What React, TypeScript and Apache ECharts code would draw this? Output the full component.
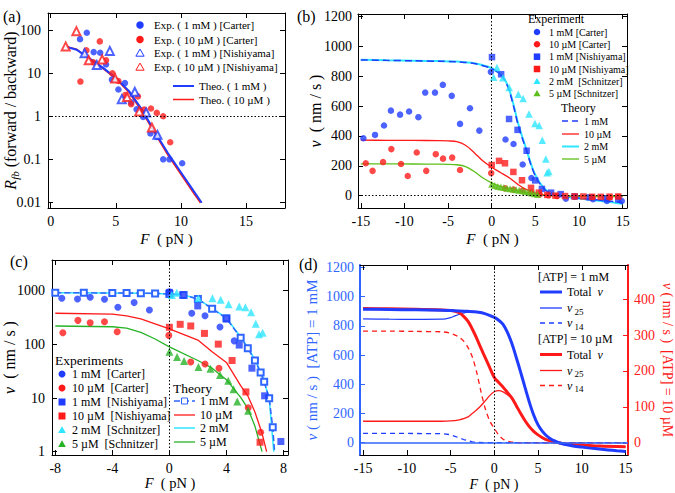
import React, { useEffect, useRef } from 'react';
import * as echarts from 'echarts';

const FONT = '"Liberation Serif", "Times New Roman", serif';
const BLUE = '#1f3cff';
const RED = '#ff1a1a';
const CYAN = '#2ee6ff';
const GREEN_B = '#5cbf1a';
const GREEN_C = '#27b327';
const LBLUE = '#2f66ff';

// ---------- panel (a): R_fb vs F ----------
const aTicksX = [0, 5, 10, 15];
const aTicksY = [0.01, 0.1, 1, 10, 100];
const aCarter1mM = [[2.25, 62], [2.77, 87], [3.3, 31], [3.8, 30], [4.25, 16], [4.7, 7.1], [5.2, 4.2], [5.7, 5.9], [6.18, 2.1], [6.6, 1.45], [7.1, 0.96], [7.66, 0.4], [8.15, 0.33], [8.64, 0.1], [9.12, 0.1], [10.1, 0.081]];
const aCarter10uM = [[2.28, 6.4], [2.74, 34], [3.28, 18], [3.77, 55], [4.25, 20], [4.74, 10], [5.2, 6.6], [5.72, 3.1], [6.18, 1.9], [6.7, 2.9], [7.18, 1.44], [7.7, 1.52], [8.15, 1.2], [8.64, 1.0], [9.18, 0.25]];
const aNishi1mM = [[2.6, 29], [3.54, 15.5], [4.54, 33], [5.46, 2.5], [6.46, 3.7], [7.33, 1.23], [8.2, 0.37]];
const aNishi10uM = [[1.15, 42], [1.97, 95], [2.92, 20], [3.95, 21], [4.95, 7.6], [5.87, 2.8], [6.8, 1.3], [7.77, 0.55]];
const aTheo1mM = [[1.3, 40], [2, 35], [3, 22], [4, 13.5], [5, 7.8], [6, 3.9], [7, 1.45], [8, 0.43], [9, 0.14], [10, 0.05], [11, 0.018], [11.6, 0.0098]];
const aTheo10uM = [[1.15, 42], [2, 36], [3, 21], [4, 13], [5, 7.5], [6, 3.6], [7, 1.3], [8, 0.4], [9, 0.125], [10, 0.045], [11, 0.016], [11.5, 0.0098]];

// ---------- panel (b): v vs F (linear) ----------
const bTicksX = [-15, -10, -5, 0, 5, 10, 15];
const bTicksY = [0, 200, 400, 600, 800, 1000, 1200];
const bCarter1mM = [[-14.7, 385], [-13.37, 407], [-12.34, 470], [-11.55, 570], [-10.5, 543], [-9.47, 564], [-8.4, 526], [-7.62, 691], [-6.5, 691], [-5.6, 743], [-4.58, 669], [-3.63, 481], [-2.49, 586], [-1.42, 436], [-0.1, 830], [1.58, 376], [2.5, 346], [3.55, 209], [4.55, 118], [8.5, -20], [11.6, -24], [13.2, -36], [14.9, -36]];
const bCarter10uM = [[-14.43, 217], [-13.65, 166], [-12.45, 225], [-11.5, 312], [-10.39, 212], [-9.62, 132], [-8.59, 289], [-7.5, 166], [-6.41, 278], [-5.58, 248], [-4.53, 255], [-3.63, 172], [-0.06, 151], [1.52, 49], [2.5, 40], [3.5, 33], [4.5, 20], [5.5, 8], [6.5, 2], [7.5, -3], [9.5, -8], [11.5, -10], [13.5, -12], [14.5, -8]];
const bNishi1mM = [[0.03, 929], [1.08, 814], [1.99, 514], [2.96, 441], [4.0, 301], [4.98, 102], [5.75, 45], [6.8, 20], [7.9, 10], [9.5, -5], [11.2, -12], [13, -18], [14.5, -25]];
const bNishi10uM = [[0, 205], [0.84, 233], [1.52, 217], [2.48, 159], [3.47, 103], [4.5, 52], [5.4, 20], [6.37, 5], [7.3, 0], [8.4, -3], [9.5, -5], [10.5, -6], [11.5, -8], [12.5, -8], [13.5, -7], [14.5, -6]];
const bSchn2mM = [[0.22, 793], [0.6, 860], [1.28, 791], [2.0, 725], [3.05, 679], [3.6, 651], [4.27, 547], [4.95, 483], [5.44, 471], [5.8, 372], [6.2, 245], [6.35, 153], [6.55, 162]];
const bSchn5uM = [[0, 76], [0.35, 68], [0.7, 62], [1.05, 57], [1.4, 54], [1.75, 50], [2.1, 46], [2.45, 43], [2.8, 40], [3.15, 36], [3.5, 32], [3.85, 28], [4.2, 24], [4.55, 18], [4.9, 13], [5.25, 8]];
const bTheo1mM = [[-15, 910], [-12, 907], [-9, 904], [-6, 901], [-4, 898], [-3, 893], [-2, 886], [-1, 871], [0, 852], [1, 812], [1.5, 772], [2, 705], [2.5, 600], [3, 478], [3.5, 385], [4, 300], [4.5, 205], [5, 130], [5.5, 80], [6, 45], [6.5, 22], [7, 10], [8, -2], [9, -10], [10, -16], [11, -22], [12, -28], [13, -34], [14, -40], [15, -48]];
const bTheo2mM = [[-15, 912], [-12, 908], [-9, 905], [-6, 902], [-4, 899], [-3, 894], [-2, 888], [-1, 874], [0, 855], [1, 816], [1.5, 778], [2, 712], [2.5, 610], [3, 490], [3.5, 395], [4, 306], [4.5, 212], [5, 138], [5.5, 88], [6, 50], [6.5, 25], [7, 11], [8, -3], [9, -12], [10, -19], [11, -26], [12, -33], [13, -40], [14, -47], [15, -55]];
const bTheo10uM = [[-15, 372], [-12, 371], [-9, 370], [-6, 369], [-5, 367], [-4, 362], [-3, 338], [-2, 288], [-1, 232], [0, 190], [1, 155], [2, 120], [3, 75], [4, 40], [5, 16], [6, 5], [7, 0], [8, -3], [10, -5], [12, -6], [15, -7]];
const bTheo5uM = [[-15, 213], [-12, 213], [-9, 212], [-6, 211], [-5, 210], [-4, 207], [-3, 195], [-2, 162], [-1, 118], [0, 86], [1, 62], [2, 48], [3, 34], [4, 20], [5, 9], [6, 3], [7, 0], [8, -2], [10, -4], [12, -5], [15, -6]];

// ---------- panel (c): v vs F (log) ----------
const cTicksX = [-8, -4, 0, 4, 8];
const cTicksY = [1, 10, 100, 1000];
const cCarter1mM = [[-7.54, 721], [-6.44, 700], [-5.55, 753], [-4.55, 692], [-3.61, 490], [-2.47, 600], [-1.4, 437], [0, 955], [1.57, 380], [2.5, 341], [3.55, 210], [4.55, 116]];
const cCarter10uM = [[-7.47, 165], [-6.41, 280], [-5.55, 253], [-4.55, 263], [-3.66, 172], [-0.04, 147], [1.5, 47], [2.5, 43], [3.48, 36], [5.53, 6.6], [6.4, 2.3]];
const cNishi1mM = [[0, 930], [0.94, 830], [1.99, 520], [4.02, 297], [4.9, 97], [5.79, 36], [6.68, 11], [7.82, 1.55]];
const cNishi10uM = [[0, 208], [0.76, 236], [1.5, 220], [2.46, 160], [3.43, 101], [4.4, 50], [5.37, 13], [6.36, 1.5]];
const cSchn2mM = [[0.17, 830], [0.52, 920], [2.03, 720], [3.02, 720], [3.6, 680], [4.15, 560], [4.9, 510], [5.33, 490], [5.73, 395], [6.06, 242], [6.29, 155], [6.54, 165]];
const cSchn5uM = [[0, 73], [0.54, 58], [1.03, 49], [2.04, 38], [2.88, 35], [3.55, 27], [4.13, 21], [4.5, 14.5], [4.76, 8.6], [5.53, 5.8]];
const cTheo1mM = [[-8, 915], [-6, 912], [-4, 908], [-3, 905], [-2, 900], [-1, 890], [0, 870], [1, 830], [2, 700], [3, 460], [4, 305], [5, 133], [5.5, 85], [6, 50], [6.4, 30], [6.65, 20], [7, 9.9], [7.25, 2.85]];
const cTheo1mMEnd = [7.38, 1];
const cTheo2mM = [[-8, 915], [-4, 908], [-2, 900], [-1, 890], [0, 872], [1, 832], [2, 705], [3, 470], [4, 310], [5, 138], [5.5, 88], [6, 52], [6.5, 27], [7, 10], [7.32, 1]];
const cTheo10uM = [[-8, 380], [-4, 367], [-3, 340], [-2, 297], [-1, 240], [0, 195], [2, 120], [3, 73], [4, 46], [5, 17], [5.5, 11], [6, 5.5], [6.5, 2.2], [6.82, 1]];
const cTheo5uM = [[-8, 220], [-4, 213], [-3, 200], [-2, 167], [-1, 126], [0, 90], [2, 50], [3, 36], [4, 22], [5, 10.3], [5.5, 6.4], [6, 3], [6.5, 1]];

// ---------- panel (d): components of v ----------
const dTicksX = [-15, -10, -5, 0, 5, 10, 15];
const dTicksL = [0, 200, 400, 600, 800, 1000, 1200];
const dTicksR = [0, 100, 200, 300, 400];
const dTotal1mM = [[-15, 914], [-12, 912], [-9, 909], [-6, 906], [-5, 904], [-4, 902], [-3, 899], [-2, 894], [-1, 882], [0, 857], [0.5, 838], [1, 810], [1.5, 755], [2, 680], [2.5, 585], [3, 485], [3.5, 380], [4, 278], [4.5, 190], [5, 122], [5.5, 78], [6, 46], [6.5, 24], [7, 10], [7.5, -2], [8, -11], [9, -22], [10, -30], [11, -37], [12, -43], [13, -49], [14, -55], [15, -60]];
const d25_1mM = [[-15, 847], [-12, 845], [-9, 844], [-6, 845], [-5, 856], [-4.5, 868], [-4, 879], [-3.5, 888], [-3, 893], [-2, 893], [-1, 882], [0, 857], [0.5, 838], [1, 810], [1.5, 755], [2, 680], [2.5, 585], [3, 485], [3.5, 380], [4, 278], [4.5, 190], [5, 122], [5.5, 78], [6, 46], [6.5, 24], [7, 10], [7.5, -2], [8, -11], [9, -22], [10, -30], [11, -37], [12, -43], [13, -49], [14, -55], [15, -60]];
const d14_1mM = [[-15, 64], [-12, 64], [-9, 63], [-6, 62], [-5, 55], [-4.5, 44], [-4, 33], [-3.5, 22], [-3, 13], [-2.5, 6], [-2, 2], [-1, 0], [15, 0]];
const dTotal10uM = [[-15, 374], [-12, 373], [-9, 372], [-6, 370], [-5, 368], [-4.5, 366], [-4, 362], [-3.5, 352], [-3, 338], [-2.5, 316], [-2, 290], [-1.5, 262], [-1, 235], [-0.5, 208], [0, 182], [0.5, 168], [1, 155], [1.5, 140], [2, 125], [2.5, 104], [3, 82], [3.5, 62], [4, 45], [4.5, 32], [5, 22], [5.5, 14], [6, 8], [7, 2], [8, -3], [9, -5], [10, -6], [12, -9], [15, -11]];
const d25_10uM = [[-15, 60], [-12, 60], [-9, 60], [-6, 60], [-5, 61], [-4, 64], [-3.5, 67], [-3, 72], [-2.5, 82], [-2, 92], [-1.5, 104], [-1, 118], [-0.5, 132], [0, 142], [0.5, 145], [1, 142], [1.5, 134], [2, 124], [2.5, 104], [3, 82], [3.5, 62], [4, 45], [4.5, 32], [5, 22], [5.5, 14], [6, 8], [7, 2], [8, -3], [9, -5], [10, -6], [12, -9], [15, -11]];
const d14_10uM = [[-15, 311], [-12, 311], [-9, 310], [-6, 309], [-5, 305], [-4.5, 300], [-4, 294], [-3.5, 283], [-3, 265], [-2.5, 238], [-2, 195], [-1.5, 140], [-1, 92], [-0.5, 60], [0, 40], [0.5, 22], [1, 10], [1.5, 5], [2, 2], [3, 0], [15, 0]];

// ---------- helpers ----------
const logFmt = (v: number) => {
  const e = Math.round(Math.log10(v));
  return e >= 0 ? String(Math.pow(10, e)) : Math.pow(10, e).toFixed(-e);
};
const numFmt = (v: number) => String(Math.round(v * 100) / 100);

function richStyle(fs: number, color = '#000') {
  return {
    i: { fontFamily: FONT, fontSize: fs, fontStyle: 'italic', color, lineHeight: fs + 4 },
    n: { fontFamily: FONT, fontSize: fs, color, lineHeight: fs + 4 },
    s: { fontFamily: FONT, fontSize: Math.round(fs * 0.7), fontStyle: 'italic', color, verticalAlign: 'bottom', lineHeight: Math.round(fs * 0.7) },
    u: { fontFamily: FONT, fontSize: Math.round(fs * 0.72), color, verticalAlign: 'bottom', lineHeight: Math.round(fs * 0.72) },
  };
}

function xAxis(grid: number, min: number, max: number, ticks: number[], top: boolean, name = '', gap = 21, size = 15) {
  return {
    type: 'value', gridIndex: grid, position: top ? 'top' : 'bottom', min, max,
    axisLine: { show: true, onZero: false, lineStyle: { color: '#000', width: 1 } },
    axisTick: { show: true, inside: true, length: 5, customValues: ticks, lineStyle: { color: '#000', width: 1 } },
    axisLabel: { show: !top, customValues: ticks, margin: 6, fontFamily: FONT, fontSize: 14, color: '#000', formatter: numFmt },
    splitLine: { show: false },
    name: top ? '' : name, nameLocation: 'middle', nameGap: gap, nameMoveOverlap: false,
    nameTextStyle: { rich: richStyle(size) },
  };
}

function yAxis(grid: number, type: string, min: number, max: number, ticks: number[], right: boolean, opts: any = {}) {
  const color = opts.color || '#000';
  return {
    type, gridIndex: grid, position: right ? 'right' : 'left', min, max,
    axisLine: { show: true, onZero: false, lineStyle: { color: opts.lineColor || color, width: opts.lineWidth || 1 } },
    axisTick: { show: true, inside: true, length: 5, customValues: ticks, lineStyle: { color: opts.lineColor || color, width: 1 } },
    axisLabel: {
      show: !!opts.labels, customValues: ticks, margin: opts.margin ?? 7, fontFamily: FONT, fontSize: 14, color,
      formatter: type === 'log' ? logFmt : numFmt,
    },
    splitLine: { show: false },
    minorTick: { show: false },
    name: opts.name || '', nameLocation: 'middle', nameGap: opts.nameGap || 30, nameRotate: opts.nameRotate ?? 90,
    nameMoveOverlap: false,
    nameTextStyle: { rich: richStyle(opts.nameSize || 15, color) },
  };
}

function sc(name: string, data: number[][], xi: number, yi: number, symbol: string, size: number, color: string, extra: any = {}) {
  const empty = symbol.indexOf('empty') === 0;
  return {
    type: 'scatter', name, data, xAxisIndex: xi, yAxisIndex: yi, symbol, symbolSize: size,
    itemStyle: empty ? { color, borderColor: color, borderWidth: 1.1 } : { color },
    z: 4, silent: true, ...extra,
  };
}

function ln(name: string, data: any[], xi: number, yi: number, color: string, width: number, dash: any = 'solid', extra: any = {}) {
  return {
    type: 'line', name, data, xAxisIndex: xi, yAxisIndex: yi, showSymbol: false, symbol: 'none',
    lineStyle: { color, width, type: dash }, itemStyle: { color }, z: 3, silent: true, ...extra,
  };
}

function dotted(items: any[]) {
  return {
    silent: true, symbol: 'none', label: { show: false }, animation: false,
    lineStyle: { type: [1.5, 2], color: '#000', width: 1 },
    data: items,
  };
}

type Row = { k: string; c: string; t: string; dash?: number[]; w?: number };

function legendEls(rows: Row[], ys: number[], symX: number, textX: number, fs: number, size: number, lx1 = 0, lx2 = 0): any[] {
  const els: any[] = [];
  rows.forEach((r, i) => {
    const y = ys[i];
    const h = size / 2;
    if (r.k === 'circle') els.push({ type: 'circle', shape: { cx: symX, cy: y, r: h }, style: { fill: r.c }, z: 100 });
    if (r.k === 'rect') els.push({ type: 'rect', shape: { x: symX - h, y: y - h, width: size, height: size }, style: { fill: r.c }, z: 100 });
    if (r.k === 'tri' || r.k === 'otri')
      els.push({
        type: 'polygon', shape: { points: [[symX, y - h * 1.05], [symX + h * 1.1, y + h * 0.85], [symX - h * 1.1, y + h * 0.85]] },
        style: r.k === 'tri' ? { fill: r.c } : { fill: '#fff', stroke: r.c, lineWidth: 1 }, z: 100,
      });
    if (r.k === 'line' || r.k === 'lineSq') {
      els.push({ type: 'line', shape: { x1: lx1, y1: y, x2: lx2, y2: y }, style: { stroke: r.c, lineWidth: r.w || 1.5, lineDash: r.dash || null }, z: 100 });
      if (r.k === 'lineSq') {
        const mx = (lx1 + lx2) / 2;
        els.push({ type: 'rect', shape: { x: mx - 3, y: y - 3, width: 6, height: 6 }, style: { fill: '#fff', stroke: r.c, lineWidth: 1 }, z: 101 });
      }
    }
    els.push({
      type: 'text', x: textX, y, z: 100,
      style: { text: r.t, fontFamily: FONT, fontSize: fs, fill: '#000', align: 'left', verticalAlign: 'middle', rich: richStyle(fs) },
    });
  });
  return els;
}

function txt(x: number, y: number, t: string, fs: number, color = '#000') {
  return { type: 'text', x, y, z: 100, style: { text: t, fontFamily: FONT, fontSize: fs, fill: color, align: 'left', verticalAlign: 'middle' } };
}

function buildOption() {
  const graphic: any[] = [
    txt(3, 16, '(a)', 16), txt(297, 16, '(b)', 16), txt(10, 261, '(c)', 16), txt(299, 264, '(d)', 16),
    ...legendEls([
      { k: 'circle', c: BLUE, t: 'Exp. ( 1 mM ) [Carter]' },
      { k: 'circle', c: RED, t: 'Exp. ( 10 µM ) [Carter]' },
      { k: 'otri', c: BLUE, t: 'Exp. ( 1 mM ) [Nishiyama]' },
      { k: 'otri', c: RED, t: 'Exp. ( 10 µM ) [Nishiyama]' },
    ], [25, 39.5, 53, 67], 140, 154, 11, 7.5),
    ...legendEls([
      { k: 'line', c: BLUE, t: 'Theo. ( 1 mM )', w: 2 },
      { k: 'line', c: RED, t: 'Theo. ( 10 µM )', w: 1.5 },
    ], [86, 99.5], 0, 199, 11, 0, 173, 194),
    txt(528, 19, 'Experiment', 12),
    ...legendEls([
      { k: 'circle', c: BLUE, t: '1 mM [Carter]' },
      { k: 'circle', c: RED, t: '10 µM [Carter]' },
      { k: 'rect', c: BLUE, t: '1 mM [Nishiyama]' },
      { k: 'rect', c: RED, t: '10 µM [Nishiyama]' },
      { k: 'tri', c: CYAN, t: '2 mM  [Schnitzer]' },
      { k: 'tri', c: GREEN_B, t: '5 µM [Schnitzer]' },
    ], [32, 44.3, 56.7, 69, 81.3, 93.5], 537, 549, 10, 6.5),
    txt(561, 108, 'Theory', 12),
    ...legendEls([
      { k: 'line', c: BLUE, t: '1 mM', dash: [6, 4], w: 1.5 },
      { k: 'line', c: RED, t: '10 µM', w: 1.3 },
      { k: 'line', c: CYAN, t: '2 mM', w: 2 },
      { k: 'line', c: GREEN_B, t: '5 µM', w: 1.3 },
    ], [121, 134, 146.5, 159], 0, 584, 10, 0, 562, 579),
    txt(55, 360, 'Experiments', 13.5),
    ...legendEls([
      { k: 'circle', c: BLUE, t: '1 mM  [Carter]' },
      { k: 'circle', c: RED, t: '10 µM  [Carter]' },
      { k: 'rect', c: BLUE, t: '1 mM  [Nishiyama]' },
      { k: 'rect', c: RED, t: '10 µM  [Nishiyama]' },
      { k: 'tri', c: CYAN, t: '2 mM  [Schnitzer]' },
      { k: 'tri', c: GREEN_C, t: '5 µM  [Schnitzer]' },
    ], [374, 388, 402, 416, 430, 444], 62, 72, 12, 7),
    txt(173, 388, 'Theory', 13.5),
    ...legendEls([
      { k: 'lineSq', c: LBLUE, t: '1 mM', dash: [6, 3], w: 1.5 },
      { k: 'line', c: RED, t: '10 µM', w: 1.3 },
      { k: 'line', c: CYAN, t: '2 mM', w: 1.5 },
      { k: 'line', c: GREEN_C, t: '5 µM', w: 1.3 },
    ], [401, 415, 428, 442], 0, 200, 12, 0, 174, 195),
    txt(538, 277, '[ATP] = 1 mM', 12),
    ...legendEls([
      { k: 'line', c: BLUE, t: '{n|Total  }{i|v}', w: 3 },
      { k: 'line', c: BLUE, t: '{i|v}{u| 25}', w: 1.3 },
      { k: 'line', c: BLUE, t: '{i|v}{u| 14}', w: 1.3, dash: [5, 4] },
    ], [292, 308, 323], 0, 567, 12, 0, 540, 562),
    txt(538, 339, '[ATP] = 10 µM', 12),
    ...legendEls([
      { k: 'line', c: RED, t: '{n|Total  }{i|v}', w: 3 },
      { k: 'line', c: RED, t: '{i|v}{u| 25}', w: 1.3 },
      { k: 'line', c: RED, t: '{i|v}{u| 14}', w: 1.3, dash: [5, 4] },
    ], [354.5, 370.5, 385.5], 0, 567, 12, 0, 540, 562),
  ];

  return {
    animation: false,
    backgroundColor: '#fff',
    textStyle: { fontFamily: FONT },
    grid: [
      { left: 48, top: 13, width: 237, height: 195, outerBoundsMode: 'none', containLabel: false },
      { left: 358, top: 14, width: 269, height: 194, outerBoundsMode: 'none', containLabel: false },
      { left: 52, top: 260, width: 236, height: 195, outerBoundsMode: 'none', containLabel: false },
      { left: 360, top: 265, width: 268, height: 190, outerBoundsMode: 'none', containLabel: false },
    ],
    xAxis: [
      xAxis(0, -0.21, 18.0, aTicksX, false, '{i|F}{n|  ( pN )}', 21),
      xAxis(0, -0.21, 18.0, aTicksX, true),
      xAxis(1, -15.32, 15.5, bTicksX, false, '{i|F}{n|  ( pN )}', 21),
      xAxis(1, -15.32, 15.5, bTicksX, true),
      xAxis(2, -8.23, 8.32, cTicksX, false, '{i|F}{n|  ( pN )}', 19, 14.5),
      xAxis(2, -8.23, 8.32, cTicksX, true),
      xAxis(3, -15.35, 15.28, dTicksX, false, '{i|F}{n|  ( pN )}', 20, 14),
      xAxis(3, -15.35, 15.28, dTicksX, true),
    ],
    yAxis: [
      yAxis(0, 'log', 0.0074, 251, aTicksY, false, { labels: true, name: '{i|R}{s|fb}{n| (forward / backward)}', nameGap: 28, nameSize: 16 }),
      yAxis(0, 'log', 0.0074, 251, aTicksY, true),
      yAxis(1, 'value', -83, 1218, bTicksY, false, { labels: true, margin: 6, name: '{i|v}{n|  ( nm / s )}', nameGap: 33, nameSize: 16 }),
      yAxis(1, 'value', -83, 1218, bTicksY, true),
      yAxis(2, 'log', 0.868, 3730, cTicksY, false, { labels: true, name: '{i|v}{n|  ( nm / s )}', nameGap: 33, nameSize: 16 }),
      yAxis(2, 'log', 0.868, 3730, cTicksY, true),
      yAxis(3, 'value', -84, 1216, dTicksL, false, { labels: true, color: LBLUE, lineColor: LBLUE, lineWidth: 2, margin: 6, name: '{i|v}{n| ( nm / s )  [ATP] = 1 mM}', nameGap: 39, nameSize: 15 }),
      yAxis(3, 'value', -34, 495, dTicksR, true, { labels: true, color: RED, lineColor: RED, lineWidth: 2, margin: 6, name: '{i|v}{n| ( nm / s )  [ATP] = 10 µM}', nameGap: 30, nameSize: 14, nameRotate: -90 }),
    ],
    graphic,
    series: [
      // (a)
      ln('aTheo10uM', aTheo10uM, 0, 0, RED, 1.5),
      ln('aTheo1mM', aTheo1mM, 0, 0, BLUE, 2, 'solid', { markLine: dotted([{ yAxis: 1 }]) }),
      sc('aCarter1mM', aCarter1mM, 0, 0, 'circle', 6.5, BLUE),
      sc('aCarter10uM', aCarter10uM, 0, 0, 'circle', 6.5, RED),
      sc('aNishi1mM', aNishi1mM, 0, 0, 'emptyTriangle', 8, BLUE),
      sc('aNishi10uM', aNishi10uM, 0, 0, 'emptyTriangle', 8, RED),
      // (b)
      ln('bTheo2mM', bTheo2mM, 2, 2, CYAN, 2, 'solid', { smooth: 0.3, markLine: dotted([{ yAxis: 0 }, { xAxis: 0 }]) }),
      ln('bTheo1mM', bTheo1mM, 2, 2, BLUE, 1.5, [7, 4], { smooth: 0.3 }),
      ln('bTheo10uM', bTheo10uM, 2, 2, RED, 1.3, 'solid', { smooth: 0.3 }),
      ln('bTheo5uM', bTheo5uM, 2, 2, GREEN_B, 1.3, 'solid', { smooth: 0.3 }),
      sc('bCarter1mM', bCarter1mM, 2, 2, 'circle', 6.5, BLUE),
      sc('bCarter10uM', bCarter10uM, 2, 2, 'circle', 6.5, RED),
      sc('bNishi1mM', bNishi1mM, 2, 2, 'rect', 6.5, BLUE),
      sc('bNishi10uM', bNishi10uM, 2, 2, 'rect', 6.5, RED),
      sc('bSchn2mM', bSchn2mM, 2, 2, 'triangle', 7.5, CYAN),
      sc('bSchn5uM', bSchn5uM, 2, 2, 'triangle', 7, GREEN_B),
      // (c)
      ln('cTheo2mM', cTheo2mM, 4, 4, CYAN, 1.5, 'solid', { markLine: dotted([{ xAxis: 0 }]) }),
      ln('cTheo1mM', [...cTheo1mM, { value: cTheo1mMEnd, symbol: 'none' }], 4, 4, LBLUE, 1.5, [6, 3], {
        showSymbol: true, symbol: 'emptyRect', symbolSize: 6, itemStyle: { color: LBLUE, borderColor: LBLUE, borderWidth: 1 },
      }),
      ln('cTheo10uM', cTheo10uM, 4, 4, RED, 1.3),
      ln('cTheo5uM', cTheo5uM, 4, 4, GREEN_C, 1.3),
      sc('cCarter1mM', cCarter1mM, 4, 4, 'circle', 7, BLUE),
      sc('cCarter10uM', cCarter10uM, 4, 4, 'circle', 7, RED),
      sc('cNishi1mM', cNishi1mM, 4, 4, 'rect', 7, BLUE),
      sc('cNishi10uM', cNishi10uM, 4, 4, 'rect', 7, RED),
      sc('cSchn2mM', cSchn2mM, 4, 4, 'triangle', 8, CYAN),
      sc('cSchn5uM', cSchn5uM, 4, 4, 'triangle', 8, GREEN_C),
      // (d)
      ln('d14_1mM', d14_1mM, 6, 6, BLUE, 1.3, [5, 4], {
        markLine: {
          silent: true, symbol: 'none', label: { show: false },
          data: [
            { yAxis: 0, lineStyle: { type: 'solid', color: LBLUE, width: 1.5 } },
            { xAxis: 0, lineStyle: { type: [1.5, 2], color: '#000', width: 1 } },
          ],
        },
      }),
      ln('d25_1mM', d25_1mM, 6, 6, BLUE, 1.3, 'solid', { smooth: 0.3 }),
      ln('d14_10uM', d14_10uM, 6, 7, RED, 1.3, [5, 4], { smooth: 0.3 }),
      ln('d25_10uM', d25_10uM, 6, 7, RED, 1.3, 'solid', { smooth: 0.3 }),
      ln('dTotal10uM', dTotal10uM, 6, 7, RED, 3, 'solid', { smooth: 0.3 }),
      ln('dTotal1mM', dTotal1mM, 6, 6, BLUE, 3, 'solid', { smooth: 0.3 }),
    ],
  };
}

export default function App() {
  const ref = useRef<HTMLDivElement>(null);
  useEffect(() => {
    if (!ref.current) return;
    const chart = echarts.init(ref.current, null, { renderer: 'svg' });
    chart.setOption(buildOption() as any);
    return () => chart.dispose();
  }, []);
  return <div ref={ref} style={{ position: 'fixed', left: 0, top: 0, width: 675, height: 493, background: '#fff' }} />;
}
